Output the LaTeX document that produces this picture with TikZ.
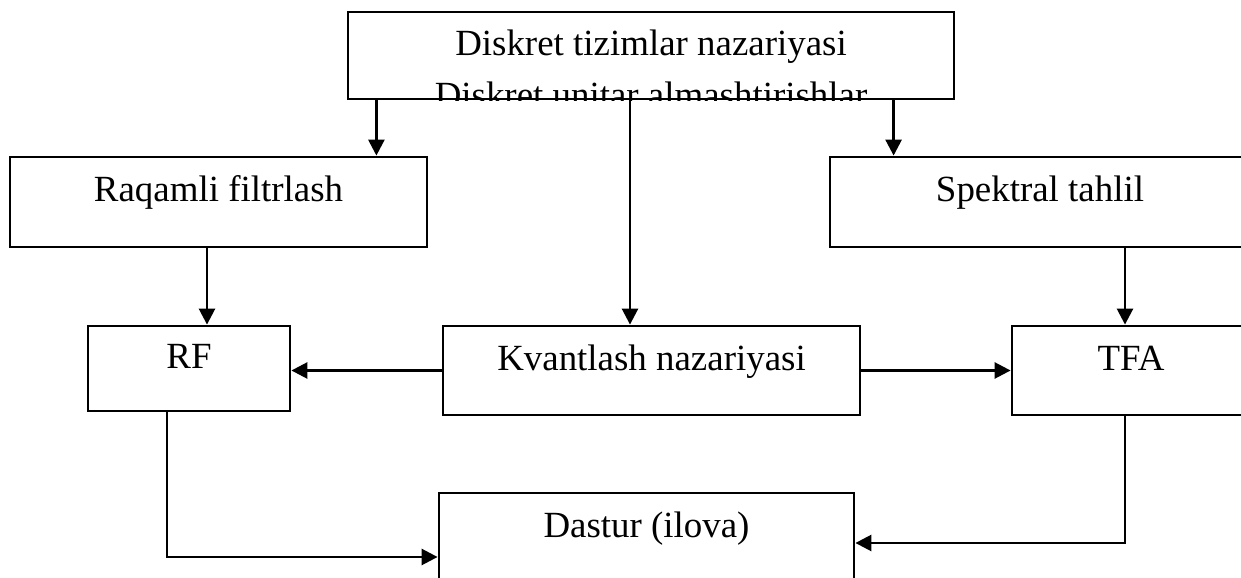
\documentclass[tikz,border=0pt]{standalone}
\usepackage{fontspec}
\setmainfont{Liberation Serif}
\usetikzlibrary{arrows.meta,positioning,calc}
\tikzset{
  blok/.style={rectangle, draw=black, line width=1.6pt, align=center,
               font=\fontsize{21}{29}\selectfont, text height=0.5cm, text depth=0.5cm,
               minimum height=1.8cm},
  arr/.style={-{Triangle[length=0.32cm,width=0.32cm]}, line width=1.5pt, draw=black},
}
\begin{document}
\begin{tikzpicture}
        \useasboundingbox (0,0) rectangle (24.82,-11.56);
        \node[blok, minimum width=12.12cm, minimum height=1.74cm] (teor) at (13.02,-1.11)
          {Diskret tizimlar nazariyasi};
        \begin{scope}
          \clip (teor.south west) rectangle (teor.north east);
          \node[font=\fontsize{21}{29}\selectfont, anchor=base] (teor2) at ($(teor.center)+(0,-1.04)$)
            {Diskret unitar almashtirishlar};
        \end{scope}
        \node[blok, minimum width=8.34cm] (raq) at (4.37,-4.04) {Raqamli filtrlash};
        \node[blok, minimum width=8.4cm] (spek) at (20.8,-4.04) {Spektral tahlil};
        \node[blok, minimum width=4.04cm, minimum height=1.7cm] (rf) at (3.78,-7.37) {RF};
        \node[blok, minimum width=8.34cm, minimum height=1.78cm] (kvant) at (13.03,-7.41)
          {Kvantlash nazariyasi};
        \node[blok, minimum width=4.76cm, minimum height=1.78cm] (tfa) at (22.62,-7.41) {TFA};
        \node[blok, minimum width=8.3cm] (dastur) at (12.93,-10.76) {Dastur (ilova)};
        % yuqoridan pastga
        \draw[arr] ([xshift=-1.04cm]raq.north east |- teor.south) -- ([xshift=-1.04cm]raq.north east);
        \draw[arr] ([xshift=-0.43cm]kvant.north |- teor.south) -- ([xshift=-0.43cm]kvant.north);
        \draw[arr] ([xshift=1.3cm]spek.north west |- teor.south) -- ([xshift=1.3cm]spek.north west);
        \draw[arr] ([xshift=0.36cm]rf.north |- raq.south) -- ([xshift=0.36cm]rf.north);
        \draw[arr] ([xshift=-0.12cm]tfa.north |- spek.south) -- ([xshift=-0.12cm]tfa.north);
        % gorizontal
        \draw[arr] (kvant.west) -- (kvant.west -| rf.east);
        \draw[arr] (kvant.east) -- (kvant.east -| tfa.west);
        % dasturga
        \draw[arr] ([xshift=-0.44cm]rf.south) |- ([yshift=-0.38cm]dastur.west);
        \draw[arr] ([xshift=-0.12cm]tfa.south) |- ([yshift=-0.1cm]dastur.east);
      \end{tikzpicture}
\end{document}
